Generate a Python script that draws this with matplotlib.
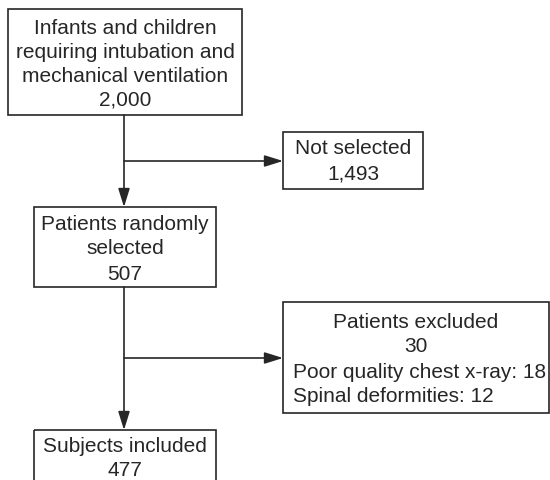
import matplotlib
matplotlib.use("Agg")
import matplotlib.pyplot as plt
from matplotlib.patches import Rectangle

plt.rcParams['font.family'] = ['Liberation Sans', 'DejaVu Sans']

# flow stages (main column) and their counts
stage_labels = [
    ["Infants and children", "requiring intubation and", "mechanical ventilation"],
    ["Patients randomly", "selected"],
    ["Subjects included"],
]
stage_counts = [2000, 507, 477]

# side boxes
side_labels = ["Not selected", "Patients excluded"]
side_counts = [1493, 30]
exclusion_reasons = ["Poor quality chest x-ray", "Spinal deformities"]
exclusion_counts = [18, 12]

INK = '#262626'
FS = 15
LW = 1.2

fig = plt.figure(figsize=(5.5, 4.8), dpi=100)
ax = fig.add_axes([0, 0, 1, 1])
ax.set_xlim(0, 550)
ax.set_ylim(480, 0)
ax.axis('off')


def box(x0, y0, x1, y1):
    ax.add_patch(Rectangle((x0, y0), x1 - x0, y1 - y0, fill=False,
                           edgecolor=INK, linewidth=LW, clip_on=False))


def lines(x, y0, step, texts, ha='center'):
    for i, t in enumerate(texts):
        ax.text(x, y0 + i * step, t, ha=ha, va='center', fontsize=FS, color=INK)


def arrow(x0, y0, x1, y1):
    ax.annotate('', xy=(x1, y1), xytext=(x0, y0),
                arrowprops=dict(arrowstyle='-|>,head_length=0.8,head_width=0.25',
                                color=INK, lw=LW, shrinkA=0, shrinkB=0,
                                mutation_scale=14))


# main column boxes
box(8, 9, 242, 115)
lines(125, 29, 23.6, stage_labels[0] + [f"{stage_counts[0]:,}"])

box(34, 207, 216, 287)
lines(125, 224, 25, stage_labels[1] + [f"{stage_counts[1]:,}"])

box(34, 430, 216, 500)
lines(125, 446, 25, stage_labels[2] + [f"{stage_counts[2]:,}"])

# side boxes
box(283, 132, 423, 189)
lines(353, 149, 25, [side_labels[0], f"{side_counts[0]:,}"])

box(283, 302, 549, 413)
lines(416, 322, 25, [side_labels[1], f"{side_counts[1]:,}"])
lines(293, 372, 24.5, [f"{r}: {c}" for r, c in zip(exclusion_reasons, exclusion_counts)], ha='left')

# connectors
arrow(124, 115, 124, 207)
arrow(124, 161, 283, 161)
arrow(124, 287, 124, 430)
arrow(124, 358, 283, 358)

fig.savefig('out.png', dpi=100)
